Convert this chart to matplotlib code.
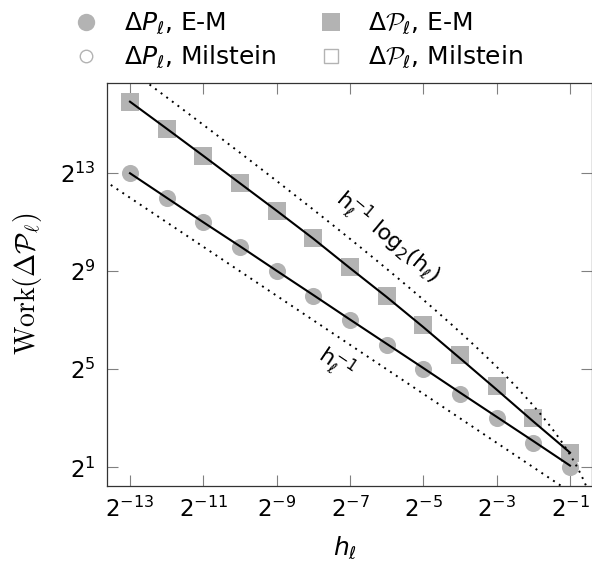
import numpy as np
import matplotlib
matplotlib.use('Agg')
import matplotlib.pyplot as plt
from matplotlib.lines import Line2D
from matplotlib.ticker import NullLocator
from matplotlib.font_manager import FontProperties

plt.rcParams['mathtext.fontset'] = 'custom'
plt.rcParams['mathtext.rm'] = 'DejaVu Sans'
plt.rcParams['mathtext.it'] = 'DejaVu Sans:italic'
plt.rcParams['mathtext.sf'] = 'DejaVu Sans'
plt.rcParams['mathtext.cal'] = 'cmsy10'

# level l -> step size h_l = 2^-l
levels = np.arange(13, 0, -1)
h = 2.0 ** (-levels)

# log2 of the work per level
work_dP_em = [13.0, 12.0, 11.0, 10.0, 9.0, 8.0, 7.0, 6.0, 5.0, 4.0, 3.0, 2.0, 1.0]
work_dP_mil = [13.0, 12.0, 11.0, 10.02, 9.02, 8.03, 7.03, 6.04, 5.05, 4.05, 3.06, 2.07, 1.07]
work_dPcal_em = [15.91, 14.82, 13.71, 12.59, 11.47, 10.35, 9.16, 8.0, 6.81, 5.57, 4.31, 3.0, 1.57]
work_dPcal_mil = [15.92, 14.82, 13.71, 12.59, 11.47, 10.33, 9.13, 7.95, 6.72, 5.45, 4.17, 2.87, 1.60]

xtick_pows = [-13, -11, -9, -7, -5, -3, -1]
ytick_pows = [1, 5, 9, 13]

# reference rates
hh = np.logspace(-14, 0, 300, base=2)
ref_low = 0.5 / hh
ref_high = 1.43 / hh * np.log2(1 / hh)

gray = '#b3b3b3'
W, H = 592, 564

fig = plt.figure(figsize=(W / 100, H / 100), dpi=100)
ax = fig.add_axes([106.7 / W, 1 - 486 / H, (592 - 106.7) / W, (486 - 83.3) / H])
ax.set_xscale('log', base=2)
ax.set_yscale('log', base=2)

ax.plot(h, 2.0 ** np.array(work_dP_em), 'o', ms=12.3, mfc=gray, mec=gray, mew=0, zorder=2)
ax.plot(h, 2.0 ** np.array(work_dPcal_em), 's', ms=13, mfc=gray, mec=gray, mew=0, zorder=2)
ax.plot(h, 2.0 ** np.array(work_dP_mil), '-', color='black', lw=1.5, zorder=3)
ax.plot(h, 2.0 ** np.array(work_dPcal_mil), '-', color='black', lw=1.5, zorder=3)

ax.plot(hh, ref_low, color='black', lw=1.4, ls=(0, (1, 2.6)), zorder=4)
ax.plot(hh, ref_high, color='black', lw=1.4, ls=(0, (1, 2.6)), zorder=4)

ax.text(2.0 ** -5.95, 2.0 ** 10.4, r'$\mathrm{h}_\ell^{-1}\ \mathrm{log}_2(\mathrm{h}_\ell)$',
        fontsize=16, rotation=-40, ha='center', va='center')
ax.text(2.0 ** -7.38, 2.0 ** 5.26, r'$\mathrm{h}_\ell^{-1}$',
        fontsize=16, rotation=-34, ha='center', va='center')

ax.set_xlim(2.0 ** -13.635, 2.0 ** -0.40)
ax.set_ylim(2.0 ** 0.237, 2.0 ** 16.67)
ax.set_xticks([2.0 ** p for p in xtick_pows])
ax.set_xticklabels([r'$2^{%d}$' % p for p in xtick_pows])
ax.set_yticks([2.0 ** p for p in ytick_pows])
ax.set_yticklabels([r'$2^{%d}$' % p for p in ytick_pows])
ax.xaxis.set_minor_locator(NullLocator())
ax.yaxis.set_minor_locator(NullLocator())
ax.tick_params(direction='in', length=8, width=0.8, color='#808080',
               top=True, right=True, labelsize=16.5, pad=8)
for sp in ax.spines.values():
    sp.set_color('#333333')
    sp.set_linewidth(0.9)

fig.text(345 / W, 1 - 548 / H, r'$h_\ell$', fontsize=18, ha='center', va='center')
fig.text(27 / W, 1 - 284 / H, r'$\mathrm{Work}(\Delta\mathcal{P}_\ell)$', math_fontfamily='cm',
         fontsize=20, rotation=90, ha='center', va='center')

# legend, two columns
h_em_c = Line2D([], [], ls='none', marker='o', ms=12.5, mfc=gray, mec=gray, mew=0)
h_mil_c = Line2D([], [], ls='none', marker='o', ms=9, mfc='white', mec=gray, mew=1.0)
h_em_s = Line2D([], [], ls='none', marker='s', ms=13, mfc=gray, mec=gray, mew=0)
h_mil_s = Line2D([], [], ls='none', marker='s', ms=10.5, mfc='white', mec=gray, mew=1.0)

leg_font = FontProperties(size=18)
fig.legend([h_em_c, h_mil_c], [r'$\Delta P_\ell$, E-M', r'$\Delta P_\ell$, Milstein'],
           loc='center left', bbox_to_anchor=(73.5 / W, 1 - 40.75 / H), frameon=False,
           handlelength=1.0, handletextpad=1.0, labelspacing=0.3,
           borderpad=0, borderaxespad=0, prop=leg_font)
fig.legend([h_em_s, h_mil_s], [r'$\Delta \mathcal{P}_\ell$, E-M', r'$\Delta \mathcal{P}_\ell$, Milstein'],
           loc='center left', bbox_to_anchor=(318.5 / W, 1 - 40.75 / H), frameon=False,
           handlelength=1.0, handletextpad=1.0, labelspacing=0.3,
           borderpad=0, borderaxespad=0, prop=leg_font)

fig.savefig('out.png', dpi=100)
